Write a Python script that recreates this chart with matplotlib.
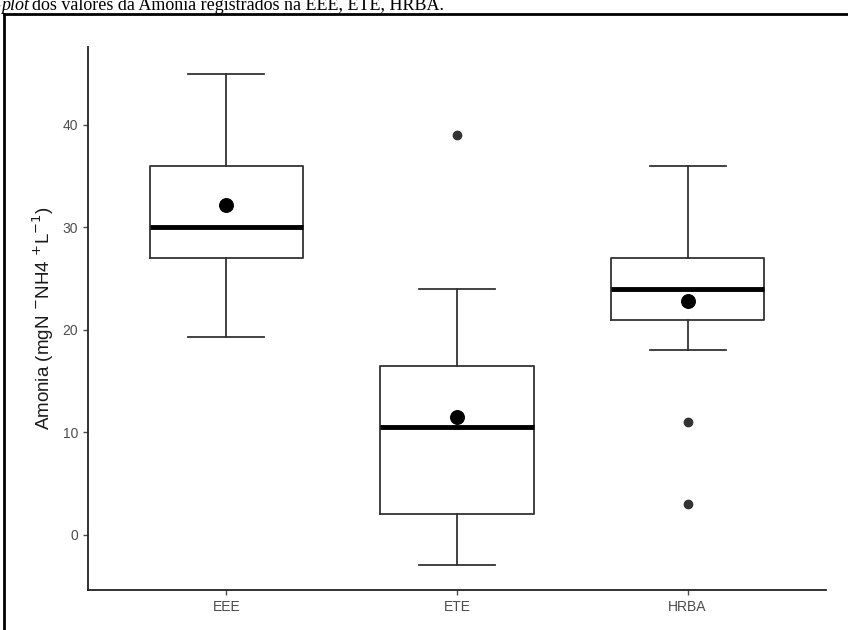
import matplotlib
matplotlib.use("Agg")
import matplotlib.pyplot as plt
from matplotlib.lines import Line2D

categories = ["EEE", "ETE", "HRBA"]
whisker_low = [19.3, -3.0, 18.0]
q1 = [27.0, 2.0, 21.0]
medians = [30.0, 10.5, 24.0]
q3 = [36.0, 16.5, 27.0]
whisker_high = [45.0, 24.0, 36.0]
means = [32.2, 11.5, 22.8]
outliers = [[], [39.0], [11.0, 3.0]]
yticks = [0, 10, 20, 30, 40]

plt.rcParams['font.family'] = ['Liberation Sans', 'DejaVu Sans']

fig = plt.figure(figsize=(8.48, 6.30), dpi=100)
W, H = 848, 630
ax = fig.add_axes([88 / W, (H - 590) / H, (826 - 88) / W, (590 - 47) / H])

stats = []
for i, c in enumerate(categories):
    stats.append(dict(label=c, whislo=whisker_low[i], q1=q1[i], med=medians[i],
                      q3=q3[i], whishi=whisker_high[i], mean=means[i], fliers=outliers[i]))

pos = list(range(1, len(categories) + 1))
line_col = "#333333"
ax.bxp(stats, positions=pos, widths=0.665, showmeans=False, patch_artist=False,
       boxprops=dict(color=line_col, linewidth=1.3),
       whiskerprops=dict(color=line_col, linewidth=1.3),
       capprops=dict(color=line_col, linewidth=1.3),
       medianprops=dict(color="black", linewidth=3.5, solid_capstyle='butt'),
       flierprops=dict(marker='o', markerfacecolor="#333333", markeredgecolor="#333333",
                       markersize=6))
ax.scatter(pos, means, s=95, color="black", zorder=5)

# set cap widths to 0.33
for ln in ax.lines:
    xd = ln.get_xdata()
    if len(xd) == 2 and xd[0] != xd[1]:
        yd = ln.get_ydata()
        if yd[0] == yd[1] and abs((xd[1] - xd[0]) - 0.665 / 2) < 1e-6:
            c = (xd[0] + xd[1]) / 2
            ln.set_xdata([c - 0.165, c + 0.165])

ax.set_xlim(0.4, 3.6)
ax.set_ylim(-5.4, 47.6)
ax.set_xticks(pos)
ax.set_xticklabels(categories)
ax.set_yticks(yticks)
ax.tick_params(axis='both', colors="#4d4d4d", labelcolor="#4d4d4d", labelsize=10,
               length=3.5, width=1)
for s in ["top", "right"]:
    ax.spines[s].set_visible(False)
for s in ["left", "bottom"]:
    ax.spines[s].set_color("#222222")
    ax.spines[s].set_linewidth(1.3)
ax.set_ylabel(r"Amonia (mgN $^{-}$NH4 $^{+}$L$^{-1}$)", fontsize=13.5, color="#1a1a1a", labelpad=5)

# page frame and cut caption
fig.add_artist(Line2D([4 / W, 1.0], [(H - 14) / H, (H - 14) / H], color="black", linewidth=2,
                      transform=fig.transFigure))
fig.add_artist(Line2D([4 / W, 4 / W], [0, (H - 14) / H], color="black", linewidth=2,
                      transform=fig.transFigure))
base = (H - 10.5) / H
fig.text(-6 / W, base, "-", fontsize=13, family="Liberation Serif", va="baseline")
fig.text(1 / W, base, "plot", fontsize=13, family="Liberation Serif",
         style="italic", va="baseline")
fig.text(32 / W, base, "dos valores da Amonia registrados na EEE, ETE, HRBA.",
         fontsize=13, family="Liberation Serif", va="baseline")

fig.savefig("out.png", dpi=100)
